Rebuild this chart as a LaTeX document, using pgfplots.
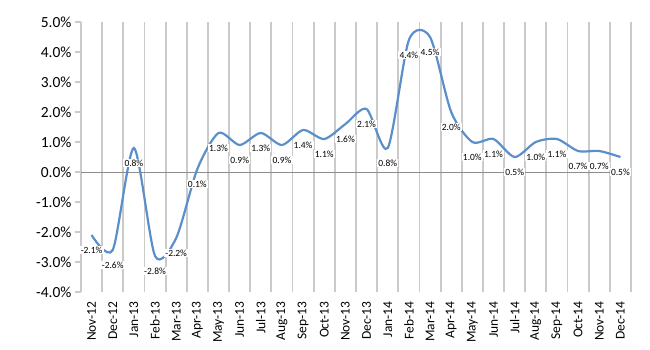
\documentclass[border=0pt]{standalone}
\usepackage{pgfplots}
\pgfplotsset{compat=1.18}
\usepackage{fontspec}
\setmainfont{Carlito}
\definecolor{linec}{HTML}{5B8FCA}
\definecolor{gridc}{HTML}{CACACA}
\definecolor{zeroc}{HTML}{8C8C8C}
\begin{document}
\begin{tikzpicture}
\path[use as bounding box] (-81bp,-58bp) rectangle (569bp,292bp);
\begin{axis}[
  scale only axis, width=550bp, height=270bp,
  at={(0,0)}, anchor=south west,
  xmin=-0.5, xmax=25.5, ymin=-4, ymax=5,
  axis lines*=left,
  x axis line style={draw=none},
  y axis line style={gridc, line width=1.8bp},
  ytick={-4,-3,...,5},
  yticklabel={\pgfmathprintnumber[fixed,fixed zerofill,precision=1,assume math mode=true]{\tick}\%},
  yticklabel style={font=\fontsize{15.5}{16}\selectfont, text=black},
  tick align=outside,
  major tick length=6bp,
  y tick style={gridc, line width=1.8bp},
  xtick={0,...,25},
  xticklabels={Nov-12,Dec-12,Jan-13,Feb-13,Mar-13,Apr-13,May-13,Jun-13,Jul-13,Aug-13,Sep-13,Oct-13,Nov-13,Dec-13,Jan-14,Feb-14,Mar-14,Apr-14,May-14,Jun-14,Jul-14,Aug-14,Sep-14,Oct-14,Nov-14,Dec-14},
  xticklabel style={rotate=90, anchor=east, font=\fontsize{13.5}{14}\selectfont, text=black},
  x tick style={draw=none},
  minor xtick={-0.5,0.5,...,25.5},
  xminorgrids,
  minor x grid style={gridc, line width=1.8bp},
  minor tick length=0pt,
  extra y ticks={0},
  extra y tick labels={},
  extra y tick style={ymajorgrids, major grid style={zeroc, line width=1bp}},
  clip=false,
]
\addplot[linec, line width=2.2bp, smooth, tension=0.45, mark=none,
  nodes near coords={\pgfmathprintnumber[fixed,fixed zerofill,precision=1,assume math mode=true]{\pgfplotspointmeta}\%},
  every node near coord/.append style={anchor=center, yshift=-15bp, fill=white, inner sep=1.2bp, text=black, font=\fontsize{9.5}{10}\selectfont}]
table {
x y
0 -2.1
1 -2.6
2 0.8
3 -2.8
4 -2.2
5 0.1
6 1.3
7 0.9
8 1.3
9 0.9
10 1.4
11 1.1
12 1.6
13 2.1
14 0.8
15 4.4
16 4.5
17 2.0
18 1.0
19 1.1
20 0.5
21 1.0
22 1.1
23 0.7
24 0.7
25 0.5
};
\end{axis}
\end{tikzpicture}
\end{document}
